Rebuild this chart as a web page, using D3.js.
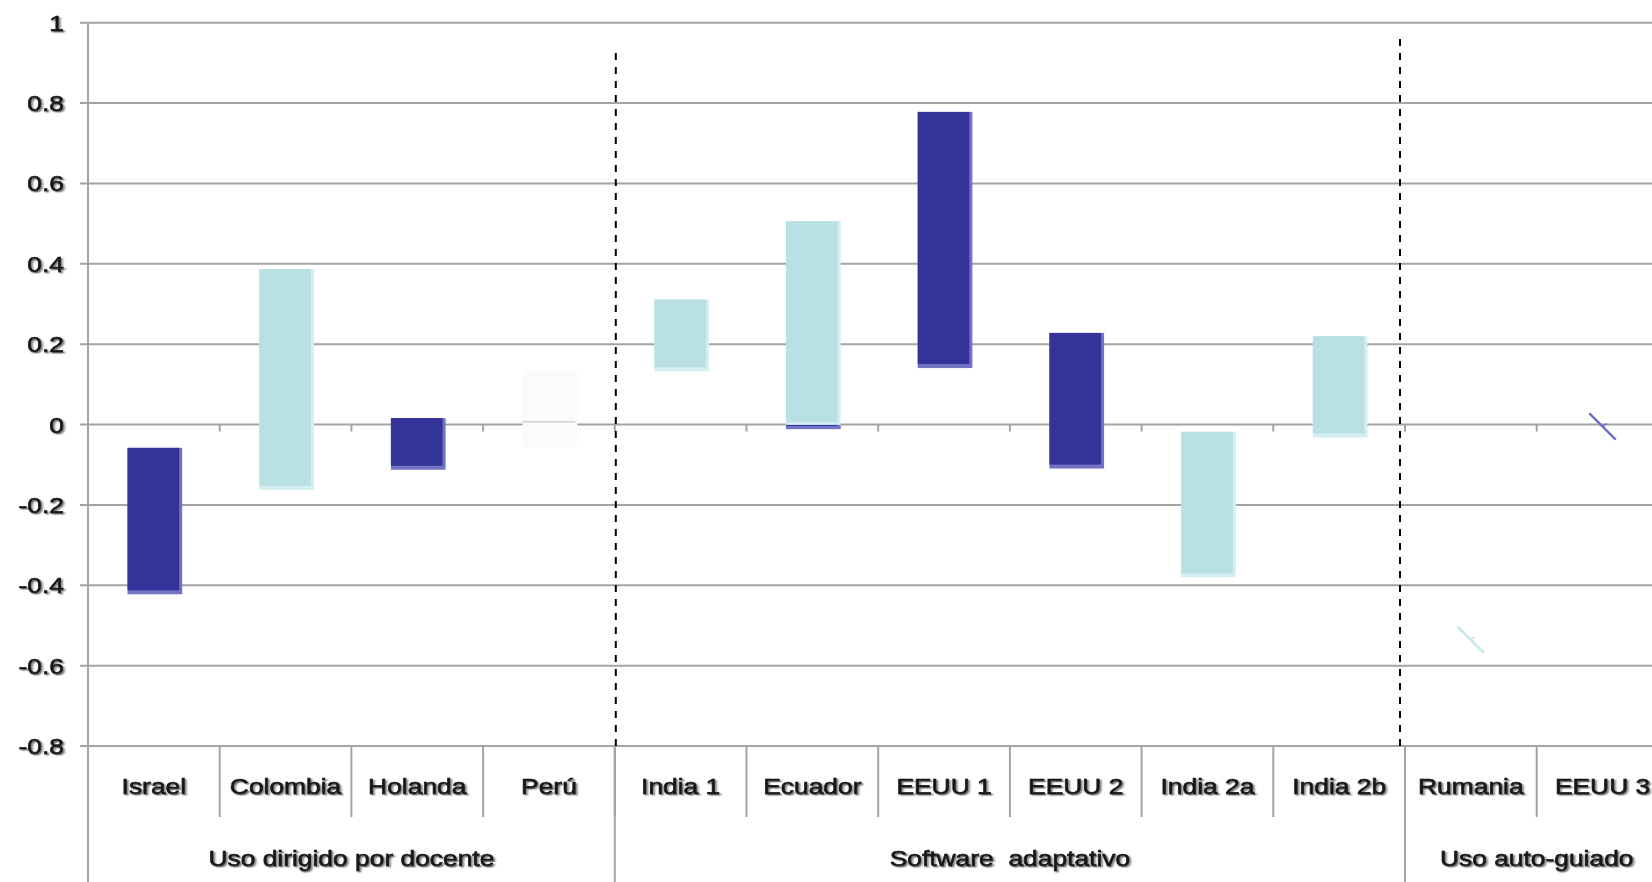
<!DOCTYPE html>
<html>
<head>
<meta charset="utf-8">
<script src="https://cdn.jsdelivr.net/npm/d3@7"></script>
<style>
  body { margin: 0; background: #fff; }
  text { font-family: "Liberation Sans", Arial, sans-serif; }
</style>
</head>
<body>
<div id="chart"></div>
<script>
// data
var categories = ["Israel", "Colombia", "Holanda", "Perú", "India 1", "Ecuador",
                  "EEUU 1", "EEUU 2", "India 2a", "India 2b", "Rumania", "EEUU 3"];
var groupNames = ["Uso dirigido por docente", "Software  adaptativo", "Uso auto-guiado"];
var groupSizes = [4, 6, 2];

// floating bars: low / high end of each bar, and its kind
var barCats  = ["Israel", "Colombia", "Holanda", "Perú", "India 1", "Ecuador", "Ecuador",
                "EEUU 1", "EEUU 2", "India 2a", "India 2b"];
var barLow   = [-0.42, -0.16, -0.11, -0.055, 0.135, -0.002, -0.009, 0.143, -0.107, -0.378, -0.03];
var barHigh  = [-0.058, 0.387, 0.016, 0.135, 0.311, 0.506, -0.001, 0.778, 0.228, -0.018, 0.22];
var barKind  = ["down", "up", "down", "blank", "up", "up", "down", "down", "down", "up", "up"];

// categories whose bar collapsed to a single slanted stroke
var strokeCats   = ["Rumania", "EEUU 3"];
var strokeValues = [-0.536, -0.005];
var strokeKind   = ["up", "down"];

var yTicks = [1, 0.8, 0.6, 0.4, 0.2, 0, -0.2, -0.4, -0.6, -0.8];

var width = 1652, height = 882;
var colors = {
  up:    { fill: "#b9e0e3", edge: "#d3eff1" },
  down:  { fill: "#333399", edge: "#7373c4" },
  blank: { fill: "#fbfbfb", edge: "#fbfbfb" }
};

var svg = d3.select("#chart").append("svg")
  .attr("width", width)
  .attr("height", height)
  .style("display", "block");

svg.append("rect").attr("width", width).attr("height", height).attr("fill", "#fff");

var defs = svg.append("defs");
defs.append("filter")
  .attr("id", "shadow")
  .attr("x", "-10%").attr("y", "-20%").attr("width", "130%").attr("height", "150%")
  .append("feDropShadow")
    .attr("dx", 1.3).attr("dy", 1.3)
    .attr("stdDeviation", 0.7)
    .attr("flood-color", "#555")
    .attr("flood-opacity", 0.9);

var axisX = 88;
var y = d3.scaleLinear().domain([-0.8, 1]).range([746, 22.7]);
var x = d3.scaleBand().domain(categories).range([axisX, axisX + 12 * 131.7]).padding(0);
var bw = x.bandwidth();
var barW = bw * 0.4;
var gridColor = "#a4a4a4";

// text look: slightly stretched sideways, thickened, with a soft shadow
var labelStretch = 1.2;
function styleLabel(sel) {
  sel.attr("font-size", 22)
    .attr("fill", "#161616")
    .attr("stroke", "#161616")
    .attr("stroke-width", 0.6)
    .attr("filter", "url(#shadow)");
}

// horizontal gridlines (with small outward ticks on the y axis)
svg.append("g").selectAll("line")
  .data(yTicks)
  .enter().append("line")
    .attr("x1", axisX - 8)
    .attr("x2", width)
    .attr("y1", function(d) { return y(d); })
    .attr("y2", function(d) { return y(d); })
    .attr("stroke", gridColor)
    .attr("stroke-width", 2);

// y axis line
svg.append("line")
  .attr("x1", axisX).attr("x2", axisX)
  .attr("y1", y(1)).attr("y2", height)
  .attr("stroke", gridColor).attr("stroke-width", 2);

// tick marks on the zero line at category boundaries
svg.append("g").selectAll("line")
  .data(categories.slice(1))
  .enter().append("line")
    .attr("x1", function(d) { return x(d); })
    .attr("x2", function(d) { return x(d); })
    .attr("y1", y(0))
    .attr("y2", y(0) + 7)
    .attr("stroke", gridColor)
    .attr("stroke-width", 2);

// y tick labels
svg.append("g").selectAll("text")
  .data(yTicks)
  .enter().append("text")
    .attr("transform", function(d) { return "translate(" + 64 + "," + (y(d) + 8) + ") scale(" + labelStretch + ",1)"; })
    .attr("text-anchor", "end")
    .call(styleLabel)
    .text(function(d) { return d; });

// dashed separators between groups
var sepTops = [53, 39];
var sepBottoms = [746, 752];
var cum = 0;
var sepCats = [];
groupSizes.slice(0, -1).forEach(function(n) { cum += n; sepCats.push(categories[cum]); });
svg.append("g").selectAll("line")
  .data(sepCats)
  .enter().append("line")
    .attr("x1", function(d, i) { return x(d) + (i === 0 ? 1 : -5); })
    .attr("x2", function(d, i) { return x(d) + (i === 0 ? 1 : -5); })
    .attr("y1", function(d, i) { return sepTops[i]; })
    .attr("y2", function(d, i) { return sepBottoms[i]; })
    .attr("stroke", "#000")
    .attr("stroke-width", 2)
    .attr("stroke-dasharray", "7,7");

// bars: lighter offset edge behind, main fill on top
var bars = barCats.map(function(c, i) {
  return { cat: c, lo: barLow[i], hi: barHigh[i], kind: barKind[i] };
});
var barG = svg.append("g");
barG.selectAll("rect.edge")
  .data(bars)
  .enter().append("rect")
    .attr("class", "edge")
    .attr("x", function(d) { return x(d.cat) + (bw - barW) / 2; })
    .attr("y", function(d) { return y(d.hi); })
    .attr("width", barW + 2)
    .attr("height", function(d) { return Math.max(2, y(d.lo) - y(d.hi)) + 1; })
    .attr("fill", function(d) { return colors[d.kind].edge; });
barG.selectAll("rect.bar")
  .data(bars)
  .enter().append("rect")
    .attr("class", "bar")
    .attr("x", function(d) { return x(d.cat) + (bw - barW) / 2; })
    .attr("y", function(d) { return y(d.hi); })
    .attr("width", barW - 1)
    .attr("height", function(d) { return Math.max(1, y(d.lo) - y(d.hi) - 3); })
    .attr("fill", function(d) { return colors[d.kind].fill; });

// faint line through the blank (Perú) bar
barG.selectAll("line.blank")
  .data(bars.filter(function(d) { return d.kind === "blank"; }))
  .enter().append("line")
    .attr("class", "blank")
    .attr("x1", function(d) { return x(d.cat) + (bw - barW) / 2; })
    .attr("x2", function(d) { return x(d.cat) + (bw + barW) / 2; })
    .attr("y1", y(0.007)).attr("y2", y(0.007))
    .attr("stroke", "#d2d2d2").attr("stroke-width", 1.5);

// collapsed bars drawn as short slanted strokes
var strokes = strokeCats.map(function(c, i) {
  return { cat: c, v: strokeValues[i], kind: strokeKind[i] };
});
var half = bw * 0.1;
var strokeG = svg.append("g").selectAll("g")
  .data(strokes)
  .enter().append("g");
strokeG.append("line")
  .attr("x1", function(d) { return x(d.cat) + bw / 2 - half; })
  .attr("x2", function(d) { return x(d.cat) + bw / 2 + half; })
  .attr("y1", function(d) { return y(d.v) - half; })
  .attr("y2", function(d) { return y(d.v) + half; })
  .attr("stroke", function(d) { return d.kind === "up" ? "#c6e8ea" : "#6f6fc0"; })
  .attr("stroke-width", 2.5);
strokeG.append("line")
  .attr("x1", function(d) { return x(d.cat) + bw / 2; })
  .attr("x2", function(d) { return x(d.cat) + bw / 2 + 4; })
  .attr("y1", function(d) { return y(d.v); })
  .attr("y2", function(d) { return y(d.v) - 3; })
  .attr("stroke", function(d) { return d.kind === "up" ? "#c6e8ea" : "#6f6fc0"; })
  .attr("stroke-width", 1.5);

// category label area: short dividers between categories
var baseY = y(-0.8);
svg.append("g").selectAll("line")
  .data(categories.slice(1))
  .enter().append("line")
    .attr("x1", function(d) { return x(d); })
    .attr("x2", function(d) { return x(d); })
    .attr("y1", baseY)
    .attr("y2", baseY + 71)
    .attr("stroke", gridColor)
    .attr("stroke-width", 2);

// long dividers between groups
svg.append("g").selectAll("line")
  .data(sepCats)
  .enter().append("line")
    .attr("x1", function(d) { return x(d); })
    .attr("x2", function(d) { return x(d); })
    .attr("y1", baseY)
    .attr("y2", height)
    .attr("stroke", gridColor)
    .attr("stroke-width", 2);

// category labels
svg.append("g").selectAll("text")
  .data(categories)
  .enter().append("text")
    .attr("transform", function(d) { return "translate(" + (x(d) + bw / 2) + "," + (baseY + 48) + ") scale(" + labelStretch + ",1)"; })
    .attr("text-anchor", "middle")
    .call(styleLabel)
    .text(function(d) { return d; });

// group labels, centred under each group
var groups = [];
var start = 0;
groupNames.forEach(function(name, i) {
  var first = categories[start], last = categories[start + groupSizes[i] - 1];
  groups.push({ name: name, cx: (x(first) + x(last) + bw) / 2 });
  start += groupSizes[i];
});
svg.append("g").selectAll("text")
  .data(groups)
  .enter().append("text")
    .attr("transform", function(d) { return "translate(" + d.cx + "," + (baseY + 120) + ") scale(" + labelStretch + ",1)"; })
    .attr("text-anchor", "middle")
    .call(styleLabel)
    .style("white-space", "pre")
    .text(function(d) { return d.name; });
</script>
</body>
</html>
